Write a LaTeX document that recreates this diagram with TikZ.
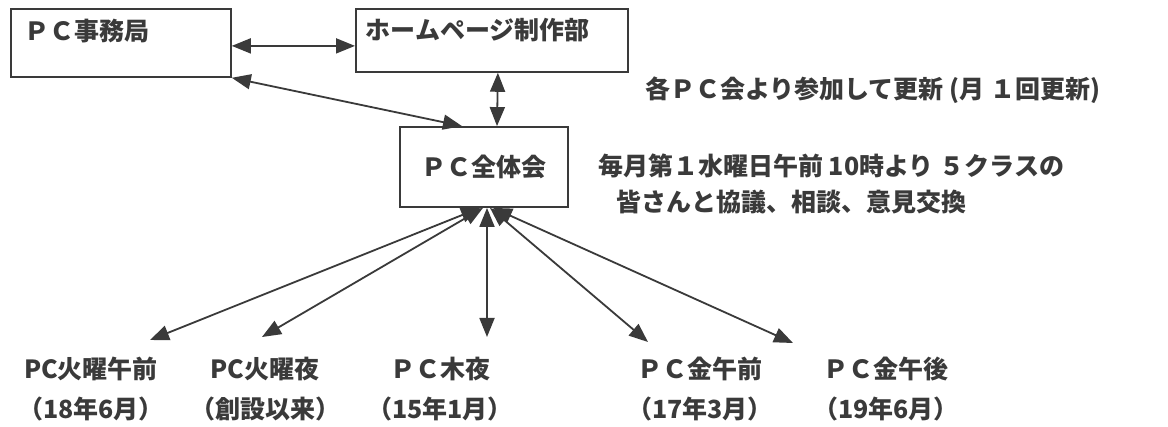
\documentclass[tikz,border=0pt]{standalone}
\usepackage{fontspec}
\setmainfont{Noto Sans CJK JP}
\usetikzlibrary{arrows.meta}
\definecolor{ink}{HTML}{3A3A3A}
\begin{document}
\begin{tikzpicture}[x=1pt,y=-1pt,
  box/.style={draw=ink, line width=1.8pt, text=ink, font=\fontsize{25}{30}\selectfont\bfseries},
  lbl/.style={text=ink, inner sep=0pt, font=\fontsize{25}{40}\selectfont\bfseries},
  arr/.style={draw=ink, line width=1.8pt, {Triangle[length=19pt,width=15pt]}-{Triangle[length=19pt,width=15pt]}}]
\useasboundingbox[fill=white] (0,0) rectangle (1168,427);
% boxes
\node[box, anchor=north west, text width=192pt, inner xsep=14pt, inner ysep=6pt,
      text height=26pt, text depth=30pt, align=left] (b1) at (10,8) {ＰＣ事務局};
\node[box, anchor=north west, text width=252pt, inner xsep=10pt, inner ysep=5pt,
      text height=26pt, text depth=27pt, align=left] (b2) at (355,8) {ホームページ制作部};
\node[box, minimum width=168pt, minimum height=80pt, inner sep=0pt] (b3) at (484,167) {ＰＣ全体会};
% side texts
\node[lbl, anchor=west] (upd) at (645,90) {各ＰＣ会より参加して更新 (月 １回更新)};
\node[lbl, anchor=north west, align=left, font=\fontsize{25}{36}\selectfont\bfseries] (meet) at (598,154)
  {毎月第１水曜日午前 10時より ５クラスの\\\hspace{18pt}皆さんと協議、相談、意見交換};
% bottom labels
\node[lbl, anchor=north, align=center] (l1) at (91,357) {PC火曜午前\\（18年6月）};
\node[lbl, anchor=north, align=center] (l2) at (265,357) {PC火曜夜\\（創設以来）};
\node[lbl, anchor=north, align=center] (l3) at (440,357) {ＰＣ木夜\\（15年1月）};
\node[lbl, anchor=north, align=center] (l4) at (700,357) {ＰＣ金午前\\（17年3月）};
\node[lbl, anchor=north, align=center] (l5) at (886,357) {ＰＣ金午後\\（19年6月）};
% arrow tips near the labels
\coordinate (t1) at (150,340);
\coordinate (t2) at (262,337);
\coordinate (t3) at (487,337);
\coordinate (t4) at (648,342);
\coordinate (t5) at (793,343);
% connectors
\draw[arr] ([yshift=-3pt]b1.east) -- ([yshift=-3pt]b1.east -| b2.west);
\draw[arr] (b1.south east) -- ([xshift=-22pt]b3.north);
\draw[arr] ([xshift=6pt]b2.south) -- ([xshift=13pt]b3.north);
\draw[arr] ([xshift=-4pt]b3.south) -- (t1);
\draw[arr] ([xshift=-1pt]b3.south) -- (t2);
\draw[arr] ([xshift=3pt]b3.south) -- (t3);
\draw[arr] ([xshift=6pt]b3.south) -- (t4);
\draw[arr] ([xshift=9pt]b3.south) -- (t5);
\end{tikzpicture}
\end{document}
